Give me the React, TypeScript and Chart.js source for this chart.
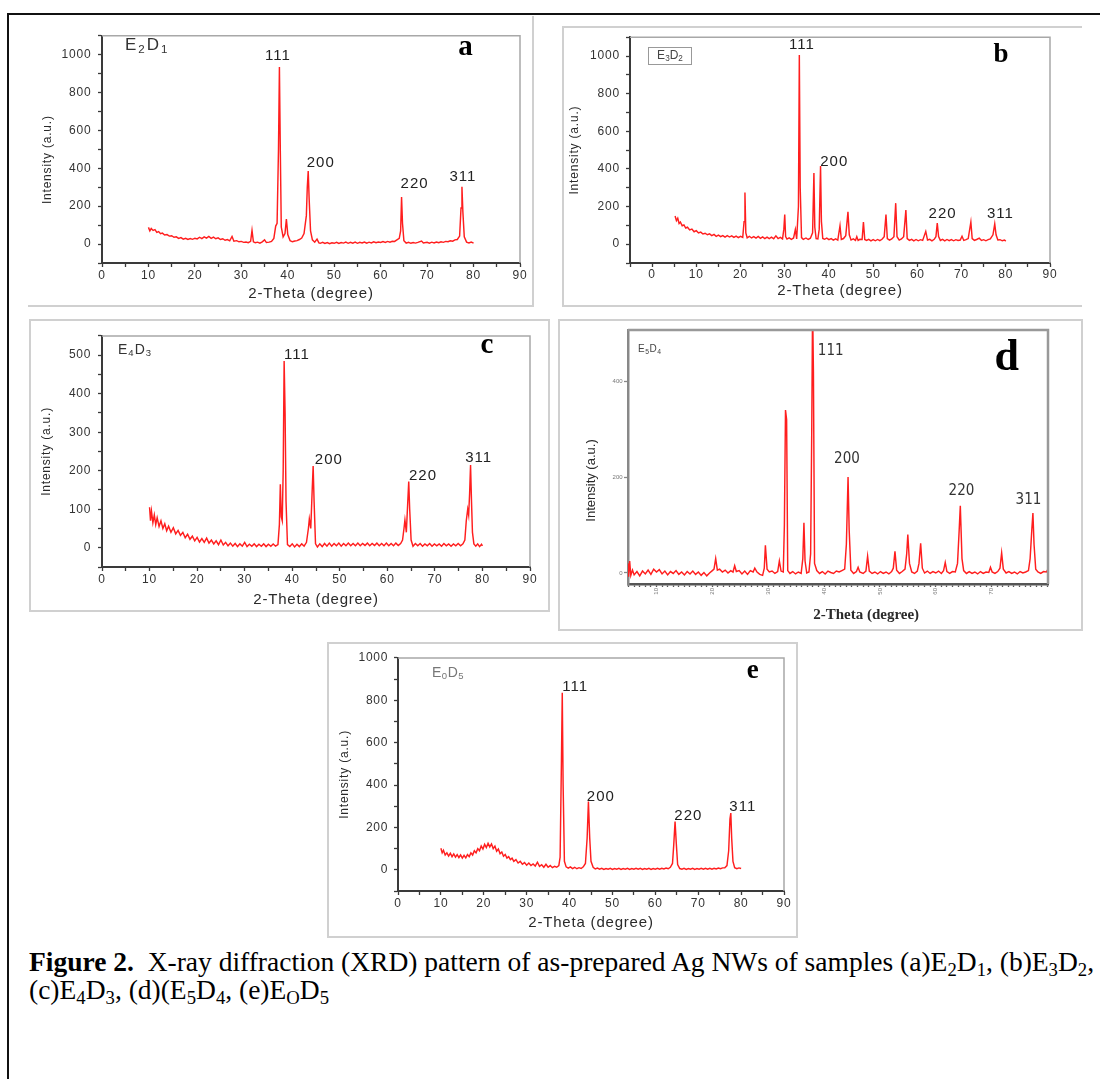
import React, { useEffect, useRef } from "react";
import { Chart, registerables } from "chart.js";

Chart.register(...registerables);
Chart.defaults.font.family = '"Liberation Sans", Arial, sans-serif';

type Pt = [number, number];

// ---------------- data (2-theta, intensity) ----------------
const e2d1Pattern: Pt[] = [
  [10, 88], [10.3, 70], [10.6, 82], [11, 72], [11.4, 76], [11.8, 62], [12.2, 66], [12.6, 55], [13, 58], [13.5, 48],
  [14, 50], [14.5, 42], [15, 44], [15.5, 36], [16, 38], [16.5, 30], [17, 34], [17.5, 26], [18, 30], [18.5, 24],
  [19, 29], [19.5, 25], [20, 31], [20.5, 27], [21, 36], [21.5, 29], [22, 38], [22.5, 31], [23, 40], [23.5, 30],
  [24, 37], [24.5, 28], [25, 33], [25.5, 24], [26, 28], [26.5, 20], [27, 24], [27.5, 17], [28, 40], [28.4, 15],
  [29, 18], [29.5, 12], [30, 14], [30.5, 9], [31, 11], [31.5, 7], [32, 14], [32.3, 72], [32.6, 12], [33, 7],
  [33.5, 10], [34, 5], [34.5, 12], [35, 22], [35.4, 8], [36, 10], [36.5, 14], [37, 30], [37.4, 95], [37.7, 110],
  [38, 500], [38.2, 935], [38.4, 480], [38.6, 90], [39, 38], [39.4, 55], [39.7, 132], [40, 50], [40.5, 18], [41, 12],
  [41.5, 16], [42, 18], [42.5, 24], [43, 32], [43.5, 55], [44, 150], [44.2, 300], [44.4, 385], [44.6, 240], [44.9, 70],
  [45.3, 22], [45.8, 10], [46.3, 26], [46.7, 6], [47, 4], [47.5, 9], [48, 3], [48.5, 8], [49, 2], [49.5, 7],
  [50, 4], [50.5, 9], [51, 3], [51.5, 8], [52, 5], [52.5, 10], [53, 4], [53.5, 9], [54, 5], [54.5, 10],
  [55, 4], [55.5, 9], [56, 6], [56.5, 11], [57, 5], [57.5, 10], [58, 6], [58.5, 12], [59, 7], [59.5, 11],
  [60, 8], [60.5, 13], [61, 9], [61.5, 14], [62, 10], [62.5, 15], [63, 14], [63.5, 22], [64, 30], [64.3, 70],
  [64.5, 248], [64.7, 110], [65, 18], [65.5, 5], [66, 9], [66.5, 4], [67, 8], [67.5, 5], [68, 9], [68.8, 16],
  [69.2, 6], [70, 9], [70.5, 5], [71, 10], [71.5, 6], [72, 11], [72.5, 7], [73, 12], [73.5, 9], [74, 14],
  [74.5, 12], [75, 17], [75.5, 15], [76, 22], [76.5, 24], [77, 42], [77.3, 190], [77.5, 302], [77.7, 170], [78, 38],
  [78.5, 10], [79, 6], [79.5, 11], [80, 5],
];

const e3d2Pattern: Pt[] = [
  [5.2, 150], [5.5, 125], [5.8, 138], [6.1, 110], [6.4, 118], [6.8, 98], [7.2, 102], [7.6, 86], [8, 90], [8.5, 76],
  [9, 80], [9.5, 66], [10, 72], [10.5, 60], [11, 64], [11.5, 54], [12, 58], [12.5, 50], [13, 55], [13.5, 46],
  [14, 52], [14.5, 42], [15, 48], [15.5, 40], [16, 46], [16.5, 38], [17, 45], [17.5, 38], [18, 44], [18.5, 36],
  [19, 43], [19.5, 35], [20, 42], [20.5, 36], [20.8, 120], [21, 275], [21.2, 60], [21.5, 34], [22, 42], [22.5, 33],
  [23, 40], [23.5, 32], [24, 41], [24.5, 31], [25, 39], [25.5, 30], [26, 38], [26.5, 30], [27, 37], [27.5, 29],
  [28, 44], [28.5, 30], [29, 36], [29.5, 28], [29.8, 80], [30, 158], [30.2, 40], [30.5, 27], [31, 34], [31.5, 26],
  [32, 33], [32.4, 78], [32.7, 28], [33.1, 200], [33.3, 1005], [33.5, 300], [33.8, 35], [34.2, 26], [34.8, 33], [35.3, 25],
  [35.8, 32], [36.3, 60], [36.6, 378], [36.8, 90], [37.1, 30], [37.5, 28], [37.8, 80], [38.1, 415], [38.3, 120], [38.6, 30],
  [39, 26], [39.5, 32], [40, 24], [40.5, 30], [41, 22], [41.5, 28], [42, 22], [42.5, 98], [42.8, 25], [43.3, 30],
  [43.8, 45], [44.3, 172], [44.6, 50], [45, 22], [45.5, 28], [46, 20], [46.3, 40], [46.6, 20], [47, 26], [47.5, 25],
  [47.8, 118], [48.1, 25], [48.5, 20], [49, 26], [49.5, 18], [50, 24], [50.5, 18], [51, 25], [51.5, 19], [52, 26],
  [52.5, 40], [52.9, 158], [53.2, 30], [53.7, 22], [54.2, 28], [54.7, 40], [55.1, 218], [55.4, 40], [55.9, 22], [56.4, 28],
  [56.9, 40], [57.4, 182], [57.7, 30], [58.2, 20], [58.7, 26], [59.2, 18], [59.7, 25], [60.2, 18], [60.7, 24], [61.2, 20],
  [61.9, 68], [62.3, 22], [62.8, 26], [63.3, 18], [63.8, 26], [64.2, 40], [64.5, 112], [64.8, 40], [65.2, 20], [65.7, 26],
  [66.2, 18], [66.7, 25], [67.2, 19], [67.7, 24], [68.2, 18], [68.7, 24], [69.2, 20], [69.7, 22], [70.1, 42], [70.5, 20],
  [71, 24], [71.5, 30], [72.1, 118], [72.4, 30], [72.9, 20], [73.4, 25], [74, 32], [74.5, 20], [75, 24], [75.5, 18],
  [76, 24], [76.5, 28], [77.1, 50], [77.5, 108], [77.8, 50], [78.2, 22], [78.7, 24], [79.2, 18], [79.7, 22], [80, 16],
];

const e4d3Pattern: Pt[] = [
  [10, 105], [10.2, 70], [10.4, 95], [10.7, 65], [11, 85], [11.3, 60], [11.6, 78], [12, 55], [12.4, 70], [12.8, 50],
  [13.2, 62], [13.6, 44], [14, 56], [14.5, 40], [15, 52], [15.5, 36], [16, 45], [16.5, 32], [17, 40], [17.5, 26],
  [18, 35], [18.5, 22], [19, 30], [19.5, 18], [20, 27], [20.5, 15], [21, 24], [21.5, 14], [22, 25], [22.5, 12],
  [23, 20], [23.5, 10], [24, 18], [24.5, 8], [25, 20], [25.5, 7], [26, 14], [26.5, 5], [27, 12], [27.5, 4],
  [28, 11], [28.5, 3], [29, 10], [29.5, 4], [30, 14], [30.5, 3], [31, 9], [31.5, 4], [32, 10], [32.5, 3],
  [33, 9], [33.5, 4], [34, 10], [34.5, 3], [35, 9], [35.5, 4], [36, 10], [36.5, 4], [37, 8], [37.3, 60],
  [37.5, 165], [37.7, 80], [37.9, 70], [38.1, 200], [38.3, 485], [38.5, 350], [38.7, 120], [39, 8], [39.5, 3], [40, 10],
  [40.5, 2], [41, 9], [41.5, 3], [42, 10], [42.5, 4], [43, 14], [43.4, 50], [43.6, 75], [43.9, 50], [44.2, 150],
  [44.4, 212], [44.6, 120], [44.9, 10], [45.3, 2], [45.8, 10], [46.3, 3], [46.8, 11], [47.3, 4], [47.8, 12], [48.3, 4],
  [48.8, 11], [49.3, 5], [49.8, 12], [50.3, 4], [50.8, 11], [51.3, 5], [51.8, 12], [52.3, 5], [52.8, 11], [53.3, 5],
  [53.8, 12], [54.3, 5], [54.8, 11], [55.3, 6], [55.8, 12], [56.3, 5], [56.8, 11], [57.3, 6], [57.8, 12], [58.3, 5],
  [58.8, 11], [59.3, 5], [59.8, 12], [60.3, 5], [60.8, 11], [61.3, 5], [61.8, 12], [62.3, 6], [62.8, 11], [63.2, 20],
  [63.5, 50], [63.7, 72], [64, 40], [64.3, 120], [64.5, 172], [64.7, 100], [65, 20], [65.4, 4], [65.9, 11], [66.4, 5],
  [66.9, 11], [67.4, 4], [67.9, 10], [68.4, 5], [68.9, 11], [69.4, 4], [69.9, 10], [70.4, 5], [70.9, 10], [71.4, 4],
  [71.9, 11], [72.4, 5], [72.9, 10], [73.4, 4], [73.9, 10], [74.4, 5], [74.9, 11], [75.4, 5], [75.9, 10], [76.3, 20],
  [76.6, 70], [76.9, 100], [77.1, 85], [77.3, 140], [77.5, 215], [77.7, 120], [77.9, 40], [78.2, 10], [78.6, 4], [79, 10],
  [79.4, 3], [79.8, 9], [80, 5],
];

const e5d4Pattern: Pt[] = [
  [4.9, 20], [5, -8], [5.2, 25], [5.4, -5], [5.7, 6], [6, -4], [6.5, 3], [7, -6], [7.5, 4], [8, -2],
  [8.5, 6], [9, -3], [9.5, 8], [10, 2], [10.5, 7], [11, -2], [11.5, 4], [12, -4], [12.5, 3], [13, -1],
  [13.5, 5], [14, -3], [14.5, 2], [15, -4], [15.5, 3], [16, -2], [16.5, 4], [17, -3], [17.5, 2], [18, -5],
  [18.5, 1], [19, -6], [19.5, 0], [20, 5], [20.3, 8], [20.6, 30], [20.9, 6], [21.3, 8], [21.8, 2], [22.3, 6],
  [22.8, 0], [23.3, 5], [23.7, 2], [24, 15], [24.3, 3], [24.8, 5], [25.3, -2], [25.8, 4], [26.3, -3], [26.8, 5],
  [27.3, 2], [27.6, 10], [28, 2], [28.5, -3], [29, -5], [29.3, 10], [29.5, 58], [29.8, 8], [30.2, 2], [30.7, 4],
  [31.2, -1], [31.7, 3], [32, 25], [32.3, 4], [32.7, 2], [32.9, 100], [33.1, 340], [33.3, 320], [33.5, 5], [33.9, -1],
  [34.4, 3], [34.9, -2], [35.4, 2], [35.9, -1], [36.2, 30], [36.4, 105], [36.6, 25], [36.9, 0], [37.3, 2], [37.6, 40],
  [37.8, 300], [37.95, 560], [38.1, 420], [38.3, 20], [38.7, 5], [39.2, -1], [39.7, 3], [40.2, -2], [40.7, 4], [41.2, 1],
  [41.7, -1], [42.2, 4], [42.7, 2], [43.2, 5], [43.7, 8], [44, 60], [44.3, 200], [44.5, 90], [44.8, 6], [45.3, -1],
  [45.8, 3], [46.1, 12], [46.4, 2], [47, -1], [47.5, 4], [47.8, 35], [48.1, 4], [48.6, -1], [49.1, 2], [49.6, -2],
  [50.1, 3], [50.6, -1], [51.1, 2], [51.6, -2], [52.1, 3], [52.4, 10], [52.7, 45], [53, 6], [53.5, -1], [54, 3],
  [54.5, 8], [54.8, 40], [55, 80], [55.3, 20], [55.7, 2], [56.2, -1], [56.7, 4], [57, 20], [57.3, 62], [57.6, 10],
  [58, 0], [58.5, 4], [59, -1], [59.5, 3], [60, 0], [60.5, 4], [61, -1], [61.4, 5], [61.7, 22], [62, 3],
  [62.5, -1], [63, 3], [63.5, 2], [63.9, 20], [64.2, 90], [64.4, 140], [64.7, 30], [65, 5], [65.5, -1], [66, 3],
  [66.5, -1], [67, 2], [67.5, -2], [68, 3], [68.5, -1], [69, 2], [69.5, 1], [69.8, 12], [70.1, 2], [70.6, -1],
  [71.1, 3], [71.5, 10], [71.8, 42], [72.1, 8], [72.6, 0], [73.1, 3], [73.6, -1], [74.1, 2], [74.6, -2], [75.1, 3],
  [75.6, 0], [76.1, 2], [76.6, 5], [76.9, 30], [77.2, 90], [77.4, 125], [77.6, 60], [77.9, 8], [78.3, 2], [78.8, -1],
  [79.3, 3], [79.8, 2], [80.1, 8],
];

const e0d5Pattern: Pt[] = [
  [10, 102], [10.3, 80], [10.6, 92], [11, 70], [11.4, 80], [11.8, 65], [12.2, 78], [12.6, 62], [13, 75], [13.4, 60],
  [13.8, 72], [14.2, 58], [14.6, 70], [15, 55], [15.4, 68], [15.8, 56], [16.2, 72], [16.6, 62], [17, 80], [17.4, 70],
  [17.8, 90], [18.2, 80], [18.6, 100], [19, 90], [19.4, 112], [19.8, 98], [20.2, 120], [20.6, 105], [21, 125], [21.4, 108],
  [21.8, 122], [22.2, 100], [22.6, 112], [23, 88], [23.4, 98], [23.8, 76], [24.2, 84], [24.6, 64], [25, 72], [25.4, 55],
  [25.8, 62], [26.2, 48], [26.6, 55], [27, 40], [27.5, 48], [28, 32], [28.5, 40], [29, 26], [29.5, 34], [30, 22],
  [30.5, 32], [31, 20], [31.5, 28], [32, 18], [32.5, 36], [33, 16], [33.5, 24], [34, 12], [34.5, 26], [35, 12],
  [35.5, 20], [36, 10], [36.5, 16], [37, 12], [37.5, 20], [37.8, 60], [38.1, 500], [38.3, 835], [38.5, 400], [38.8, 40],
  [39.2, 14], [39.7, 8], [40.2, 14], [40.7, 6], [41.2, 12], [41.7, 5], [42.2, 10], [42.7, 6], [43.2, 14], [43.7, 30],
  [44.1, 150], [44.4, 322], [44.7, 150], [45, 40], [45.5, 12], [46, 4], [46.5, 8], [47, 3], [47.5, 7], [48, 2],
  [48.5, 6], [49, 3], [49.5, 7], [50, 2], [50.5, 6], [51, 3], [51.5, 7], [52, 2], [52.5, 6], [53, 3],
  [53.5, 7], [54, 2], [54.5, 6], [55, 3], [55.5, 7], [56, 3], [56.5, 7], [57, 2], [57.5, 6], [58, 3],
  [58.5, 7], [59, 2], [59.5, 6], [60, 3], [60.5, 7], [61, 3], [61.5, 7], [62, 4], [62.5, 8], [63, 5],
  [63.5, 12], [64, 30], [64.3, 120], [64.6, 228], [64.9, 120], [65.2, 25], [65.7, 6], [66.2, 3], [66.7, 7], [67.2, 2],
  [67.7, 6], [68.2, 3], [68.7, 7], [69.2, 2], [69.7, 6], [70.2, 3], [70.7, 7], [71.2, 3], [71.7, 7], [72.2, 3],
  [72.7, 7], [73.2, 3], [73.7, 7], [74.2, 4], [74.7, 8], [75.2, 5], [75.7, 9], [76.2, 10], [76.7, 20], [77.1, 90],
  [77.4, 240], [77.6, 268], [77.8, 150], [78.1, 40], [78.5, 10], [79, 5], [79.5, 9], [80, 6],
];

// ---------------- peak (hkl) labels in data units ----------------
type Lbl = { text: string; x: number; y: number };
const hklA: Lbl[] = [
  { text: "111", x: 37.9, y: 995 }, { text: "200", x: 47.1, y: 429 },
  { text: "220", x: 67.3, y: 316 }, { text: "311", x: 77.7, y: 354 },
];
const hklB: Lbl[] = [
  { text: "111", x: 33.9, y: 1059 }, { text: "200", x: 41.2, y: 436 },
  { text: "220", x: 65.7, y: 160 }, { text: "311", x: 78.8, y: 163 },
];
const hklC: Lbl[] = [
  { text: "111", x: 41.0, y: 502 }, { text: "200", x: 47.7, y: 228 },
  { text: "220", x: 67.5, y: 187 }, { text: "311", x: 79.2, y: 234 },
];
const hklD: Lbl[] = [
  { text: "111", x: 41.2, y: 463 }, { text: "200", x: 44.1, y: 237 },
  { text: "220", x: 64.6, y: 171 }, { text: "311", x: 76.6, y: 153 },
];
const hklE: Lbl[] = [
  { text: "111", x: 41.3, y: 863 }, { text: "200", x: 47.3, y: 344 },
  { text: "220", x: 67.7, y: 255 }, { text: "311", x: 80.4, y: 298 },
];

// ---------------- tick labels ----------------
const xTickLabels = [0, 10, 20, 30, 40, 50, 60, 70, 80, 90];
const yTicks1000 = [0, 200, 400, 600, 800, 1000];
const yTicks500 = [0, 100, 200, 300, 400, 500];
const xTickLabelsD = [10, 20, 30, 40, 50, 60, 70];
const yTickLabelsD = [0, 200, 400];

const xTitle = "2-Theta (degree)";
const yTitle = "Intensity (a.u.)";

// ---------------- panel specs ----------------
type Spec = {
  key: string;
  data: Pt[];
  peaks: Lbl[];
  box: { x: number; y: number; w: number; h: number };
  plot: { l: number; t: number; r: number; b: number };
  xMin: number; xMax: number; xStep: number; xMajor: number[];
  yMin: number; yMax: number; yStep: number; yMajor: number[];
  xTitleText: string; yTitleText: string;
  xTitleFont: any; yTitleFont: any; xTitlePad: number; yTitlePad: number;
  tickFont: any; tickColor: string; xTickPad: number; yTickPad: number; xTickLen: number; yTickLen: number;
  rotation: number; spacing: string;
  axisColor: string; axisWidth: number; leftColor: string; frameColor: string; frameWidth: number;
  peakFont: string; peakColor: string; peakSpacing: string;
};

const sans = '"Liberation Sans", Arial, sans-serif';
const serif = '"Liberation Serif", "Times New Roman", serif';

const common = {
  xTitleFont: { family: sans, size: 15 },
  yTitleFont: { family: sans, size: 12 },
  tickFont: { family: sans, size: 12 },
  tickColor: "#333",
  xTickLen: 4, yTickLen: 4,
  rotation: 0, spacing: "0.8px",
  axisColor: "#3a3a3a", axisWidth: 2, leftColor: "#3a3a3a", frameColor: "#a8a8a8", frameWidth: 1.5,
  peakFont: `15px ${sans}`, peakColor: "#222", peakSpacing: "1px",
};

const specs: Spec[] = [
  {
    ...common, key: "a", data: e2d1Pattern, peaks: hklA,
    box: { x: 30, y: 22, w: 515, h: 288 }, plot: { l: 102, t: 33, r: 520, b: 263 },
    xMin: 0, xMax: 90, xStep: 5, xMajor: xTickLabels,
    yMin: -100, yMax: 1100, yStep: 100, yMajor: yTicks1000,
    xTitleText: xTitle, yTitleText: yTitle + "     ", xTitlePad: 7, yTitlePad: 10.8,
    xTickPad: 1.5, yTickPad: 6.5,
  },
  {
    ...common, key: "b", data: e3d2Pattern, peaks: hklB,
    box: { x: 564, y: 24, w: 516, h: 280 }, plot: { l: 630, t: 37, r: 1050, b: 263 },
    xMin: -5, xMax: 90, xStep: 5, xMajor: xTickLabels,
    yMin: -100, yMax: 1100, yStep: 100, yMajor: yTicks1000,
    xTitleText: xTitle, yTitleText: yTitle, xTitlePad: 4.3, yTitlePad: 3.8,
    xTickPad: 0, yTickPad: 6,
  },
  {
    ...common, key: "c", data: e4d3Pattern, peaks: hklC,
    box: { x: 32, y: 322, w: 518, h: 288 }, plot: { l: 102, t: 329, r: 530, b: 567 },
    xMin: 0, xMax: 90, xStep: 5, xMajor: xTickLabels,
    yMin: -50, yMax: 550, yStep: 50, yMajor: yTicks500,
    xTitleText: xTitle, yTitleText: yTitle, xTitlePad: 1.3, yTitlePad: 7.1,
    xTickPad: 1.5, yTickPad: 6.7,
  },
  {
    ...common, key: "d", data: e5d4Pattern, peaks: hklD,
    box: { x: 560, y: 322, w: 520, h: 306 }, plot: { l: 628, t: 330, r: 1048, b: 584 },
    xMin: 4.9, xMax: 80.1, xStep: 1, xMajor: xTickLabelsD,
    yMin: -23, yMax: 507, yStep: 200, yMajor: yTickLabelsD,
    xTitleText: " ".repeat(15) + xTitle, yTitleText: yTitle + " ".repeat(13),
    xTitleFont: { family: serif, size: 15, weight: "bold" }, yTitleFont: { family: sans, size: 13 },
    xTitlePad: 4.3, yTitlePad: 23.2,
    tickFont: { family: sans, size: 6 }, tickColor: "#777", xTickPad: 1, yTickPad: 1.4, xTickLen: 3, yTickLen: 4,
    rotation: 90, spacing: "0px",
    axisColor: "#555", axisWidth: 2.5, leftColor: "#888", frameColor: "#999", frameWidth: 2.5,
    peakFont: `15px "Liberation Sans Narrow", "DejaVu Sans Condensed", ${sans}`, peakColor: "#333", peakSpacing: "0px",
  },
  {
    ...common, key: "e", data: e0d5Pattern, peaks: hklE,
    box: { x: 329, y: 645, w: 467, h: 290 }, plot: { l: 398, t: 652, r: 784, b: 891 },
    xMin: 0, xMax: 90, xStep: 5, xMajor: xTickLabels,
    yMin: -100, yMax: 1000, yStep: 100, yMajor: yTicks1000,
    xTitleText: xTitle, yTitleText: yTitle, xTitlePad: 2.7, yTitlePad: 8.8,
    xTickPad: 1.1, yTickPad: 5.7,
  },
];

function stepTicks(min: number, max: number, step: number): number[] {
  const out: number[] = [];
  for (let v = Math.ceil(min / step - 1e-9) * step; v <= max + 1e-9; v += step) {
    out.push(Math.round(v * 1000) / 1000);
  }
  return out;
}

function Panel({ s }: { s: Spec }) {
  const ref = useRef<HTMLCanvasElement>(null);
  useEffect(() => {
    const canvas = ref.current;
    if (!canvas) return;
    const { box, plot } = s;
    const padTop = plot.t - box.y;
    const wy = plot.l - box.x;
    const padRight = box.x + box.w - plot.r;
    const hx = box.y + box.h - plot.b;
    const xt = stepTicks(s.xMin, s.xMax, s.xStep);
    const yt = stepTicks(s.yMin, s.yMax, s.yStep);

    const deco = {
      id: "deco" + s.key,
      beforeDraw(chart: any) {
        chart.ctx.letterSpacing = s.spacing;
      },
      afterDraw(chart: any) {
        const { ctx, chartArea: ca, scales } = chart;
        ctx.save();
        ctx.strokeStyle = s.frameColor;
        ctx.lineWidth = s.frameWidth;
        ctx.beginPath();
        ctx.moveTo(ca.left, ca.top);
        ctx.lineTo(ca.right, ca.top);
        ctx.lineTo(ca.right, ca.bottom);
        ctx.stroke();
        ctx.font = s.peakFont;
        ctx.fillStyle = s.peakColor;
        ctx.textAlign = "center";
        ctx.textBaseline = "middle";
        ctx.letterSpacing = s.peakSpacing;
        s.peaks.forEach((p) => {
          ctx.fillText(p.text, scales.x.getPixelForValue(p.x), scales.y.getPixelForValue(p.y));
        });
        ctx.restore();
      },
    };

    const chart = new Chart(canvas, {
      type: "line",
      data: {
        datasets: [
          {
            data: s.data.map(([x, y]) => ({ x, y })),
            borderColor: "rgb(255,30,30)",
            borderWidth: 1.45,
            pointRadius: 0,
            fill: false,
            tension: 0,
          },
        ],
      },
      options: {
        responsive: false,
        animation: false,
        events: [],
        layout: { padding: { top: padTop, right: padRight, left: 0, bottom: 0 }, autoPadding: false },
        plugins: { legend: { display: false }, tooltip: { enabled: false }, title: { display: false } },
        scales: {
          x: {
            type: "linear",
            min: s.xMin,
            max: s.xMax,
            afterFit: (sc: any) => { sc.height = hx; },
            afterBuildTicks: (sc: any) => { sc.ticks = xt.map((v) => ({ value: v })); },
            ticks: {
              autoSkip: false,
              minRotation: s.rotation,
              maxRotation: s.rotation,
              padding: s.xTickPad,
              font: s.tickFont,
              color: s.tickColor,
              callback: (v: any) => (s.xMajor.includes(Number(v)) ? String(v) : ""),
            },
            grid: { drawOnChartArea: false, drawTicks: true, tickLength: s.xTickLen, tickColor: s.axisColor, tickWidth: 1.3 },
            border: { display: true, color: s.axisColor, width: s.axisWidth },
            title: { display: true, text: s.xTitleText, font: s.xTitleFont, color: "#2a2a2a", padding: { top: s.xTitlePad, bottom: s.xTitlePad } },
          },
          y: {
            type: "linear",
            min: s.yMin,
            max: s.yMax,
            afterFit: (sc: any) => { sc.width = wy; },
            afterBuildTicks: (sc: any) => { sc.ticks = yt.map((v) => ({ value: v })); },
            ticks: {
              autoSkip: false,
              padding: s.yTickPad,
              font: s.tickFont,
              color: s.tickColor,
              callback: (v: any) => (s.yMajor.includes(Number(v)) ? String(v) : ""),
            },
            grid: { drawOnChartArea: false, drawTicks: true, tickLength: s.yTickLen, tickColor: s.leftColor, tickWidth: 1.3 },
            border: { display: true, color: s.leftColor, width: s.axisWidth },
            title: { display: true, text: s.yTitleText, font: s.yTitleFont, color: "#2a2a2a", padding: { top: s.yTitlePad, bottom: s.yTitlePad } },
          },
        },
      },
      plugins: [deco],
    } as any);
    return () => chart.destroy();
  }, [s]);
  return (
    <canvas
      ref={ref}
      width={s.box.w}
      height={s.box.h}
      style={{ position: "absolute", left: s.box.x, top: s.box.y, width: s.box.w, height: s.box.h }}
    />
  );
}

const Sub = ({ c }: { c: string }) => (
  <span style={{ fontSize: "0.68em", verticalAlign: "-0.25em", lineHeight: 0 }}>{c}</span>
);

function SampleName({ e, d, left, baseline, size, color, spacing }: any) {
  return (
    <div
      style={{
        position: "absolute", left, top: baseline - 0.85 * size, fontFamily: sans, fontSize: size,
        lineHeight: 1, color, letterSpacing: spacing, whiteSpace: "nowrap",
      }}
    >
      E<Sub c={e} />D<Sub c={d} />
    </div>
  );
}

function Letter({ ch, cx, cy, size, xh }: any) {
  return (
    <div
      style={{
        position: "absolute", left: cx, top: cy - (xh ? 0.11 * size : 0), transform: "translate(-50%,-50%)",
        fontFamily: serif, fontWeight: "bold", fontSize: size, lineHeight: 1, color: "#000",
      }}
    >
      {ch}
    </div>
  );
}

const frame = (left: number, top: number, width: number, height: number, sides: string) => ({
  position: "absolute" as const, left, top, width, height, boxSizing: "border-box" as const,
  borderTop: sides.includes("t") ? "2px solid #d0d0d0" : "none",
  borderRight: sides.includes("r") ? "2px solid #d0d0d0" : "none",
  borderBottom: sides.includes("b") ? "2px solid #d0d0d0" : "none",
  borderLeft: sides.includes("l") ? "2px solid #d0d0d0" : "none",
});

export default function App() {
  return (
    <div style={{ position: "absolute", left: 0, top: 0, width: 1100, height: 1079, background: "#fff", overflow: "hidden" }}>
      {/* page borders */}
      <div style={{ position: "absolute", left: 7, top: 13, width: 1093, height: 2, background: "#111" }} />
      <div style={{ position: "absolute", left: 7, top: 13, width: 2, height: 1066, background: "#111" }} />

      {/* panel frames */}
      <div style={frame(28, 16, 506, 291, "rb")} />
      <div style={frame(562, 26, 520, 281, "tlb")} />
      <div style={frame(29, 319, 521, 293, "tlbr")} />
      <div style={frame(558, 319, 525, 312, "tlbr")} />
      <div style={frame(327, 642, 471, 296, "tlbr")} />

      {specs.map((s) => (
        <Panel key={s.key} s={s} />
      ))}

      {/* sample names */}
      <SampleName e="2" d="1" left={125} baseline={50.7} size={17} color="#333" spacing="2px" />
      <div
        style={{
          position: "absolute", left: 648, top: 47, width: 44, height: 18, boxSizing: "border-box",
          border: "1.5px solid #999", fontFamily: sans, fontSize: 12, lineHeight: "15px", textAlign: "center", color: "#444",
        }}
      >
        E<Sub c="3" />D<Sub c="2" />
      </div>
      <SampleName e="4" d="3" left={118} baseline={354} size={14} color="#333" spacing="1px" />
      <SampleName e="5" d="4" left={638} baseline={352} size={10} color="#444" spacing="0.5px" />
      <SampleName e="0" d="5" left={432} baseline={676.7} size={14} color="#777" spacing="0.5px" />

      {/* panel letters */}
      <Letter ch="a" cx={465.5} cy={48.3} size={29} xh />
      <Letter ch="b" cx={1001} cy={52.5} size={27} />
      <Letter ch="c" cx={487} cy={346.3} size={29} xh />
      <Letter ch="d" cx={1006.7} cy={356.3} size={44} />
      <Letter ch="e" cx={752.8} cy={672.2} size={27} xh />

      {/* caption */}
      <div
        style={{
          position: "absolute", left: 29, top: 948, fontFamily: serif, fontSize: 27.5, lineHeight: "28px",
          color: "#000", whiteSpace: "pre",
        }}
      >
        <div>
          <b>Figure 2.</b>
          {"  X-ray diffraction (XRD) pattern of as-prepared Ag NWs of samples (a)E"}
          <Sub c="2" />D<Sub c="1" />
          {", (b)E"}
          <Sub c="3" />D<Sub c="2" />,
        </div>
        <div>
          (c)E<Sub c="4" />D<Sub c="3" />, (d)(E<Sub c="5" />D<Sub c="4" />, (e)E<Sub c="O" />D<Sub c="5" />
        </div>
      </div>
    </div>
  );
}
